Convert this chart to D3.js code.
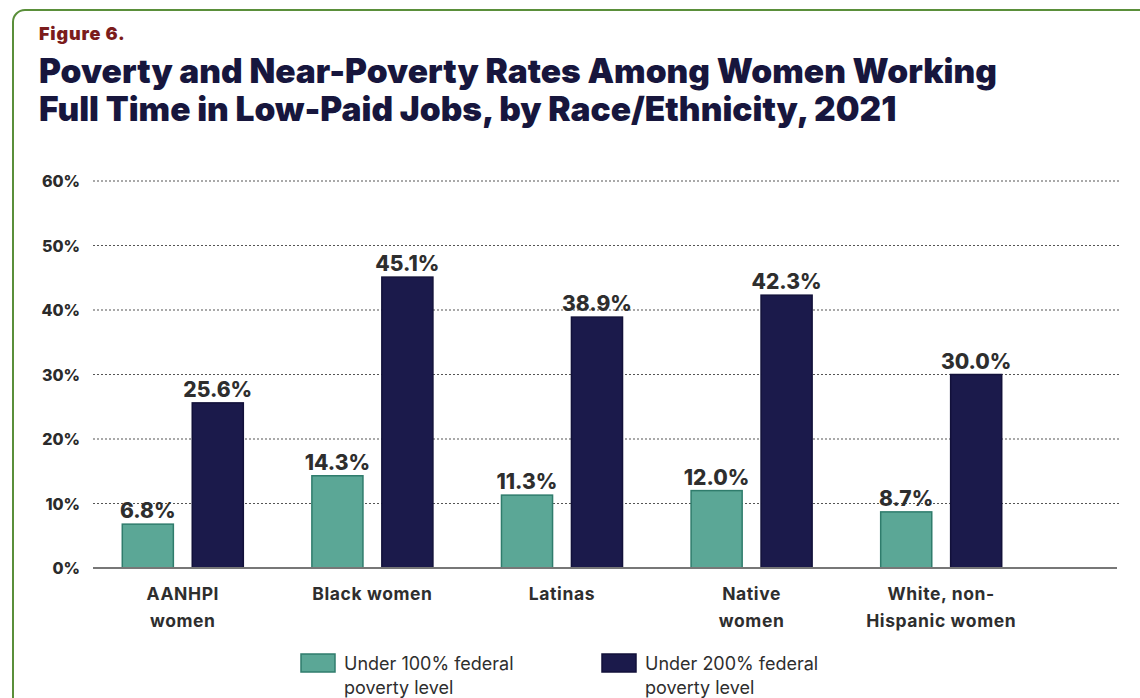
<!DOCTYPE html>
<html>
<head>
<meta charset="utf-8">
<script src="https://cdn.jsdelivr.net/npm/d3@7"></script>
<style>
  body { margin: 0; background: #fff; }
  text { font-family: "Inter", "Roboto", sans-serif; }
</style>
</head>
<body>
<div id="chart"></div>
<script>
// data
var categories = [["AANHPI", "women"], ["Black women"], ["Latinas"], ["Native", "women"], ["White, non-", "Hispanic women"]];
var under100 = [6.8, 14.3, 11.3, 12.0, 8.7];
var under200 = [25.6, 45.1, 38.9, 42.3, 30.0];
var seriesNames = [["Under 100% federal", "poverty level"], ["Under 200% federal", "poverty level"]];
var yTicks = [0, 10, 20, 30, 40, 50, 60];

var W = 1140, H = 698;

var svg = d3.select("#chart").append("svg")
    .attr("width", W)
    .attr("height", H);

// frame
svg.append("rect")
    .attr("x", 13).attr("y", 10)
    .attr("width", 1160).attr("height", 720)
    .attr("rx", 12)
    .attr("fill", "none")
    .attr("stroke", "#5a8f3a")
    .attr("stroke-width", 2);

svg.append("text")
    .attr("x", 39).attr("y", 40)
    .attr("fill", "#7b1c1c")
    .style("font-size", "18px").style("font-weight", 900)
    .style("letter-spacing", "0.8px")
    .text("Figure 6.");

var titleLines = ["Poverty and Near-Poverty Rates Among Women Working", "Full Time in Low-Paid Jobs, by Race/Ethnicity, 2021"];
svg.selectAll(".title").data(titleLines).enter().append("text")
    .attr("class", "title")
    .attr("x", 39)
    .attr("y", function(d, i) { return 83 + i * 38; })
    .attr("fill", "#17163d")
    .style("font-size", "33.5px").style("font-weight", 900)
    .text(function(d) { return d; });

var y = d3.scaleLinear().domain([0, 60]).range([568, 181]);
var x = d3.scaleBand().domain(d3.range(categories.length)).range([88, 1036]);
var sub = d3.scaleBand().domain([0, 1]).range([0, x.bandwidth()]).paddingInner(0.27).paddingOuter(0.49);

var colors = ["#5ba796", "#1b1a4b"];
var strokes = ["#2f7c6c", "#12113a"];

// grid
svg.selectAll(".grid").data(yTicks.filter(function(d) { return d > 0; })).enter().append("line")
    .attr("x1", 93).attr("x2", 1120)
    .attr("y1", function(d) { return y(d); })
    .attr("y2", function(d) { return y(d); })
    .attr("stroke", "#555")
    .attr("stroke-width", 1.2)
    .attr("stroke-dasharray", "2,2");

svg.selectAll(".ytick").data(yTicks).enter().append("text")
    .attr("x", 80)
    .attr("y", function(d) { return y(d) + 6; })
    .attr("text-anchor", "end")
    .attr("fill", "#2b2b2b")
    .style("font-size", "16px").style("font-weight", 800)
    .text(function(d) { return d + "%"; });

// bars
var series = [under100, under200];
series.forEach(function(vals, s) {
  svg.selectAll(".bar" + s).data(vals).enter().append("rect")
      .attr("x", function(d, i) { return x(i) + sub(s); })
      .attr("y", function(d) { return y(d); })
      .attr("width", sub.bandwidth())
      .attr("height", function(d) { return y(0) - y(d); })
      .attr("fill", colors[s])
      .attr("stroke", strokes[s])
      .attr("stroke-width", 1.5);

  svg.selectAll(".val" + s).data(vals).enter().append("text")
      .attr("x", function(d, i) { return x(i) + sub(s) + sub.bandwidth() / 2; })
      .attr("y", function(d) { return y(d) - 6; })
      .attr("text-anchor", "middle")
      .attr("fill", "#2e2e2e")
      .style("font-size", "21px").style("font-weight", 800)
      .text(function(d) { return d.toFixed(1) + "%"; });
});

// baseline
svg.append("line")
    .attr("x1", 93).attr("x2", 1117)
    .attr("y1", y(0)).attr("y2", y(0))
    .attr("stroke", "#777").attr("stroke-width", 2);

// category labels
var cat = svg.selectAll(".cat").data(categories).enter().append("text")
    .attr("text-anchor", "middle")
    .attr("fill", "#2e2e2e")
    .style("font-size", "17.5px").style("font-weight", 700)
    .style("letter-spacing", "0.6px");
cat.selectAll("tspan").data(function(d, i) { return d.map(function(t) { return {t: t, i: i}; }); })
  .enter().append("tspan")
    .attr("x", function(d) { return x(d.i) + x.bandwidth() / 2; })
    .attr("y", function(d, j) { return 600 + j * 27; })
    .text(function(d) { return d.t; });

// legend
var legX = [301, 602];
seriesNames.forEach(function(lines, s) {
  svg.append("rect")
      .attr("x", legX[s]).attr("y", 654)
      .attr("width", 34).attr("height", 18)
      .attr("fill", colors[s]).attr("stroke", strokes[s]).attr("stroke-width", 1.5);
  lines.forEach(function(t, j) {
    svg.append("text")
        .attr("x", legX[s] + 43)
        .attr("y", 670 + j * 24)
        .attr("fill", "#2e2e2e")
        .style("font-size", "18px").style("font-weight", 400)
        .text(t);
  });
});
</script>
</body>
</html>
